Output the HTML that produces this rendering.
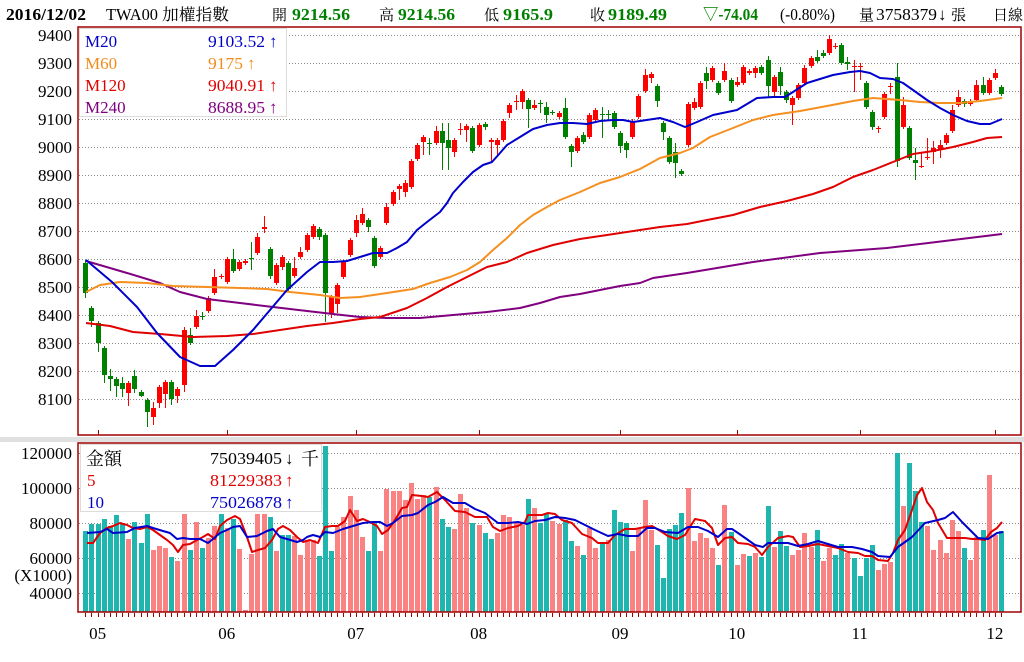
<!DOCTYPE html>
<html><head><meta charset="utf-8">
<style>
html,body{margin:0;padding:0;background:#fff;width:1024px;height:662px;overflow:hidden;}
svg{display:block;}
text{font-family:"Liberation Serif","Noto Serif CJK SC",serif;}
.cjk{font-family:"Liberation Serif","Noto Serif CJK SC","Noto Sans CJK TC",serif;}
</style></head>
<body>
<svg id="c" width="1024" height="662" viewBox="0 0 1024 662" xmlns="http://www.w3.org/2000/svg">
<rect width="1024" height="662" fill="#fff"/>
<rect x="0" y="437" width="1024" height="5" fill="#e0e0e0"/>
<g id="grid"></g>
<g id="vol"></g>
<g id="cdl"></g>
<!-- MA lines upper -->
<g fill="none" stroke-width="2" stroke-linejoin="round">
<polyline stroke="#800080" points="86,261 110,268 127,273 160,283 180,292 207,299 240,303 273,307 307,311 333,314 360,317 387,318 420,318 453,315 487,312 520,308 540,303 560,297 580,294 600,290 620,286 640,283 653,278 687,273 753,262 820,253 887,248 953,240 1002,234"/>
<polyline stroke="#e00000" points="86,323 110,326 133,332 160,334 193,337 227,336 253,334 280,330 307,326 333,323 360,319 380,317 407,308 427,298 447,287 467,277 487,267 507,262 527,253 553,245 580,239 607,235 640,230 660,227 687,224 707,220 733,215 760,207 787,201 813,194 833,187 853,177 873,170 893,162 913,154 933,151 953,147 973,142 987,138 1002,137"/>
<polyline stroke="#f59020" points="86,292 100,285 120,282 147,283 173,286 207,287 240,288 267,289 290,292 320,295 340,298 360,297 387,293 413,289 430,283 450,277 467,270 480,262 493,250 507,238 520,225 533,215 547,207 560,200 580,192 600,183 620,177 640,169 660,158 680,153 693,148 710,137 733,128 753,120 773,115 800,111 827,106 853,101 873,98 900,100 920,102 940,103 960,103 980,101 1002,98"/>
<polyline stroke="#0000cc" points="86,260 112,282 137,307 157,333 180,357 200,366 215,366 233,350 253,330 270,310 287,290 307,272 320,262 333,262 347,261 360,257 373,253 387,253 397,248 407,242 417,230 427,222 440,212 447,203 453,193 463,182 473,172 483,165 492,162 500,153 507,145 520,137 533,129 547,125 560,123 573,123 587,124 600,121 613,120 623,120 633,122 640,121 660,118 673,122 685,127 697,122 713,115 737,110 757,98 773,97 785,97 793,92 807,83 820,79 833,75 850,72 860,71 870,73 880,78 893,79 903,83 913,90 927,100 940,108 953,115 967,121 980,124 990,124 1002,119"/>
</g>
<!-- MA lines volume -->
<g fill="none" stroke-width="2" stroke-linejoin="round">
<polyline stroke="#e00000" points="87,543 93,543 100,533 107,528 113,526 120,523 127,525 133,528 140,529 147,527 153,530 160,535 167,540 173,545 178,552 183,545 190,544 197,540 203,537 208,534 215,539 220,526 227,520 235,516 240,519 247,537 252,552 258,550 265,548 272,540 278,529 283,526 290,530 297,537 303,542 310,540 318,543 325,527 332,526 338,526 345,521 350,510 357,521 363,519 370,522 377,526 382,534 388,530 395,520 402,508 407,507 412,495 422,496 428,497 437,492 445,500 455,511 465,512 475,517 487,517 493,527 500,531 508,528 518,526 525,522 528,515 542,515 548,513 555,514 562,520 572,523 582,534 592,538 598,543 608,543 615,535 625,529 635,529 645,527 652,526 662,532 668,536 677,539 685,535 695,519 705,521 712,528 718,545 725,538 732,537 738,543 748,544 755,547 762,555 768,547 778,538 788,536 793,537 800,547 808,546 818,544 828,546 838,548 848,552 858,553 865,556 872,556 878,560 888,561 893,553 898,540 905,530 912,510 917,495 922,488 927,502 933,510 938,523 947,538 955,538 965,538 972,539 978,539 985,540 991,532 997,528 1002,522"/>
<polyline stroke="#0000cc" points="87,533 100,532 107,529 113,533 127,532 135,528 147,526 153,528 163,531 170,533 177,539 183,538 190,539 200,539 208,543 213,539 220,533 227,530 233,527 240,526 247,537 257,536 267,531 273,529 280,537 287,539 297,542 303,540 307,537 313,535 320,537 325,532 333,533 343,529 353,526 363,523 373,522 380,522 387,526 393,523 402,516 412,515 418,513 428,505 435,502 443,497 453,503 465,503 475,509 485,513 498,523 508,523 518,522 527,524 535,521 545,520 555,517 565,518 575,520 585,525 595,530 608,536 618,534 628,536 638,536 647,528 655,528 665,532 678,533 688,527 698,527 708,531 718,537 727,529 732,529 738,533 748,540 755,545 763,547 768,543 778,543 788,543 798,546 808,544 818,541 828,544 838,547 852,547 862,549 872,552 878,556 890,557 898,547 912,537 925,523 938,520 945,518 953,512 962,522 972,532 978,538 988,539 997,533 1003,532"/>
</g>
<!-- legends -->
<rect x="79.5" y="28.5" width="207" height="88" fill="#fff" stroke="#dcdcdc"/>
<rect x="80.5" y="444.5" width="241" height="67" fill="#fff" stroke="#dcdcdc"/>
<!-- frames -->
<rect x="78" y="27" width="943" height="408" fill="none" stroke="#a00000" stroke-width="1.5"/>
<rect x="78" y="443" width="943" height="169" fill="none" stroke="#a00000" stroke-width="1.5"/>
<g id="ticks" stroke="#a00000" stroke-width="1"></g>

<!-- header -->
<g font-size="17" fill="#000">
<text x="6" y="20" font-weight="bold" textLength="80" lengthAdjust="spacingAndGlyphs">2016/12/02</text>
<text x="106" y="20" textLength="52" lengthAdjust="spacingAndGlyphs">TWA00</text>
<text x="162" y="20" class="cjk" font-size="16" textLength="67" lengthAdjust="spacingAndGlyphs">加權指數</text>
<text x="272" y="20" class="cjk" font-size="15">開</text>
<text x="292" y="20" font-weight="bold" fill="#008000" textLength="58" lengthAdjust="spacingAndGlyphs">9214.56</text>
<text x="379" y="20" class="cjk" font-size="15">高</text>
<text x="398" y="20" font-weight="bold" fill="#008000" textLength="57" lengthAdjust="spacingAndGlyphs">9214.56</text>
<text x="484" y="20" class="cjk" font-size="15">低</text>
<text x="503" y="20" font-weight="bold" fill="#008000" textLength="50" lengthAdjust="spacingAndGlyphs">9165.9</text>
<text x="590" y="20" class="cjk" font-size="15">收</text>
<text x="608" y="20" font-weight="bold" fill="#008000" textLength="59" lengthAdjust="spacingAndGlyphs">9189.49</text>
<text x="703" y="20" font-weight="bold" fill="#008000" textLength="55" lengthAdjust="spacingAndGlyphs">▽-74.04</text>
<text x="780" y="20" textLength="55" lengthAdjust="spacingAndGlyphs">(-0.80%)</text>
<text x="859" y="20" class="cjk" font-size="15">量</text>
<text x="876" y="20" textLength="61" lengthAdjust="spacingAndGlyphs">3758379</text>
<text x="938" y="20">↓</text>
<text x="951" y="20" class="cjk" font-size="15">張</text>
<text x="993" y="20" class="cjk" font-size="15">日線</text>
</g>

<!-- upper y labels -->
<g font-size="17" fill="#000" text-anchor="end">
<text x="72" y="41">9400</text><text x="72" y="69">9300</text><text x="72" y="97">9200</text><text x="72" y="125">9100</text>
<text x="72" y="153">9000</text><text x="72" y="181">8900</text><text x="72" y="209">8800</text><text x="72" y="237">8700</text>
<text x="72" y="265">8600</text><text x="72" y="293">8500</text><text x="72" y="321">8400</text><text x="72" y="349">8300</text>
<text x="72" y="377">8200</text><text x="72" y="405">8100</text>
</g>
<!-- lower y labels -->
<g font-size="17" fill="#000" text-anchor="end">
<text x="72" y="459">120000</text><text x="72" y="494">100000</text><text x="72" y="529">80000</text>
<text x="72" y="564">60000</text><text x="72" y="581">(X1000)</text><text x="72" y="599">40000</text>
</g>
<!-- month labels -->
<g font-size="17" fill="#000" text-anchor="middle">
<text x="97.6" y="639">05</text><text x="226.7" y="639">06</text><text x="355.7" y="639">07</text><text x="478.6" y="639">08</text>
<text x="620" y="639">09</text><text x="736.8" y="639">10</text><text x="859.7" y="639">11</text><text x="994.9" y="639">12</text>
</g>

<!-- upper legend text -->
<g font-size="17">
<text x="85" y="47" fill="#0000c8">M20</text>
<text x="208" y="47" fill="#0000c8" textLength="57" lengthAdjust="spacingAndGlyphs">9103.52</text><text x="269" y="47" fill="#0000c8">↑</text>
<text x="85" y="69" fill="#f08c1c">M60</text>
<text x="208" y="69" fill="#f08c1c" textLength="35" lengthAdjust="spacingAndGlyphs">9175</text><text x="247" y="69" fill="#f08c1c">↑</text>
<text x="85" y="91" fill="#e00000">M120</text>
<text x="208" y="91" fill="#e00000" textLength="57" lengthAdjust="spacingAndGlyphs">9040.91</text><text x="269" y="91" fill="#e00000">↑</text>
<text x="85" y="113" fill="#800080">M240</text>
<text x="208" y="113" fill="#800080" textLength="57" lengthAdjust="spacingAndGlyphs">8688.95</text><text x="269" y="113" fill="#800080">↑</text>
</g>
<!-- lower legend text -->
<g font-size="17">
<text x="86" y="465" class="cjk" font-size="18" fill="#000">金額</text>
<text x="210" y="464" fill="#000" textLength="72" lengthAdjust="spacingAndGlyphs">75039405</text><text x="285" y="464" fill="#000">↓</text>
<text x="301" y="465" class="cjk" font-size="18" fill="#000">千</text>
<text x="87" y="486" fill="#e00000">5</text>
<text x="210" y="486" fill="#e00000" textLength="72" lengthAdjust="spacingAndGlyphs">81229383</text><text x="285" y="486" fill="#e00000">↑</text>
<text x="87" y="508" fill="#0000c8">10</text>
<text x="210" y="508" fill="#0000c8" textLength="72" lengthAdjust="spacingAndGlyphs">75026878</text><text x="285" y="508" fill="#0000c8">↑</text>
</g>
</svg>
<script>
(function(){
var NS="http://www.w3.org/2000/svg";
function el(tag,a,p){var e=document.createElementNS(NS,tag);for(var k in a)e.setAttribute(k,a[k]);p.appendChild(e);return e;}
var X0=85.3,DX=6.146;
var gG=document.getElementById('grid'),gV=document.getElementById('vol'),gC=document.getElementById('cdl'),gT=document.getElementById('ticks');
for(var v=0;v<14;v++){var y=35+v*28+0.5;el('line',{x1:79,x2:1021,y1:y,y2:y,stroke:'#8a8a8a','stroke-width':1,'stroke-dasharray':'1,2'},gG);}
[453,488,523,558,593].forEach(function(y){el('line',{x1:79,x2:1021,y1:y+0.5,y2:y+0.5,stroke:'#8a8a8a','stroke-width':1,'stroke-dasharray':'1,2'},gG);});
var C=[[263,293,260,298],[308,321,306,327],[323,343,321,352],[348,375,346,383],[376,379,369,391],[379,386,377,397],[383,389,377,397],[393,383,381,406],[376,389,370,393],[392,396,390,397],
[400,412,398,427],[417,408,402,425],[403,387,385,408],[394,382,380,408],[382,399,380,405],[396,389,387,403],[385,330,327,392],[335,343,328,345],[327,316,310,329],[316,317,312,320],
[311,298,296,313],[293,277,269,295],[277,276,274,279],[282,259,257,284],[259,271,249,273],[269,262,260,271],[263,261,259,265],[258,259,242,270],[253,237,233,255],[229,227,216,233],
[249,276,247,279],[283,265,263,285],[267,257,255,270],[263,289,261,291],[276,268,257,278],[257,252,247,259],[250,235,233,252],[237,226,224,239],[229,237,227,240],[235,293,233,322],
[313,297,295,318],[304,285,283,313],[277,262,260,279],[255,240,238,257],[233,220,215,237],[223,214,208,225],[220,227,218,232],[238,266,236,268],[257,248,246,259],[223,207,203,225],
[204,192,190,206],[189,186,184,200],[192,183,180,197],[187,161,159,189],[159,145,143,161],[142,137,135,155],[143,144,138,155],[143,131,126,145],[131,143,123,170],[140,148,123,170],
[152,140,138,157],[130,129,123,135],[130,126,124,142],[128,151,126,153],[145,125,123,147],[124,127,122,130],[142,140,138,162],[145,140,138,155],[140,121,119,142],[113,105,103,118],
[102,101,95,110],[102,91,89,109],[100,109,98,128],[108,105,100,110],[103,104,100,113],[107,115,102,123],[112,113,110,115],[117,113,111,119],[108,137,98,139],[146,152,144,167],
[151,138,136,153],[135,142,132,144],[137,115,113,139],[120,110,108,122],[114,115,107,138],[114,115,110,120],[113,127,111,129],[133,146,131,153],[143,150,141,158],[137,121,119,139],
[117,96,94,119],[91,75,69,93],[78,74,72,83],[86,101,84,107],[123,132,121,140],[138,162,136,164],[152,163,143,178],[171,174,169,176],[145,104,102,147],[108,102,98,110],
[107,83,81,109],[73,81,67,89],[80,68,66,82],[83,93,81,95],[80,71,63,82],[80,101,78,103],[85,82,77,87],[83,67,65,85],[73,71,69,75],[73,68,66,78],
[67,73,65,75],[60,86,56,97],[92,77,75,97],[72,86,67,95],[92,100,90,103],[105,98,96,125],[98,85,83,100],[83,68,65,85],[66,58,56,68],[57,61,50,63],
[53,56,50,58],[53,39,35,55],[47,46,43,49],[45,63,43,65],[62,64,57,70],[67,66,60,92],[67,66,63,80],[83,107,81,109],[112,127,110,130],[129,128,126,133],
[117,94,92,119],[87,86,83,94],[77,161,63,167],[127,105,97,129],[128,158,126,160],[160,163,148,180],[167,166,153,168],[158,157,138,160],[152,148,141,164],[149,145,140,158],
[143,135,133,145],[131,110,105,133],[105,97,90,107],[101,104,99,107],[104,101,99,106],[100,85,80,102],[85,93,77,95],[93,80,78,95],[78,73,69,80],[87,94,85,96]];
var V=[531,0,524,0,524,0,519,0,526,0,515,0,524,0,539,1,522,0,543,0,514,0,550,1,546,1,548,1,557,0,561,1,514,1,550,0,522,1,548,0,
538,1,526,1,514,0,528,1,519,0,549,1,610,1,554,1,514,1,514,1,517,0,551,1,535,0,535,0,536,1,555,1,540,1,540,1,556,0,446,0,
551,0,527,1,517,1,496,1,510,1,537,1,551,0,523,0,551,1,489,1,491,1,491,1,500,1,483,1,499,1,495,1,497,0,487,1,519,0,527,0,
529,1,494,1,508,1,523,0,525,1,533,0,539,0,533,1,515,1,517,1,522,1,525,1,499,0,508,1,523,0,514,0,521,1,524,1,520,0,541,0,
546,1,555,0,528,1,548,1,544,0,540,1,510,0,522,0,523,0,551,1,529,1,500,1,530,1,545,0,578,0,529,0,525,0,513,0,488,1,541,1,
533,1,538,1,548,1,565,0,505,1,532,0,565,1,554,1,556,0,553,1,557,0,506,0,547,1,531,0,546,0,555,1,550,1,533,1,547,1,530,0,
561,1,548,1,555,0,544,0,553,1,558,0,576,0,558,0,545,0,570,1,564,1,562,1,453,0,506,1,463,0,491,0,522,0,526,1,550,1,540,1,
553,1,520,1,531,1,548,0,560,1,537,1,530,0,475,1,535,1,531,0];
for(var i=0;i<150;i++){
 var x=Math.round(X0+i*DX);
 var top=V[2*i],pk=V[2*i+1];
 el('rect',{x:x-2,y:top,width:5,height:612-top,fill:pk?'#fa8282':'#1eb6ae'},gV);
 el('line',{x1:x+0.5,x2:x+0.5,y1:613,y2:617},gT);
 var d=C[i],o=d[0],c=d[1],h=d[2],l=d[3];
 var col=c<o?'#ff0000':'#008000';
 el('line',{x1:x+0.5,x2:x+0.5,y1:h,y2:l,stroke:col,'stroke-width':1},gC);
 var t=Math.min(o,c),b=Math.max(o,c);
 el('rect',{x:x-2,y:t,width:5,height:Math.max(1,b-t),fill:col},gC);
}
[2,23,44,64,87,106,126,148].forEach(function(k){var x=Math.round(X0+k*DX)+0.5;el('line',{x1:x,x2:x,y1:430,y2:435},gT);});
})();
</script>
</body></html>
